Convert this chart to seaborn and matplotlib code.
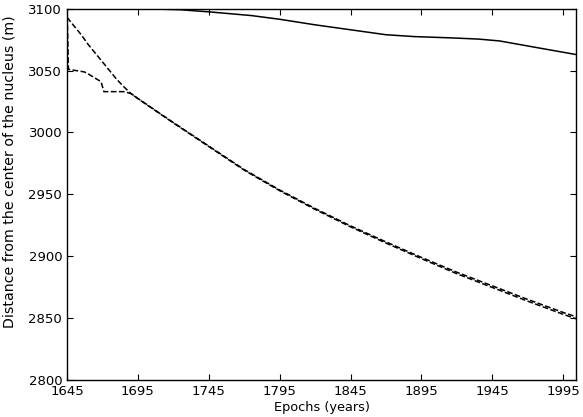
import matplotlib
matplotlib.use('Agg')
import matplotlib.pyplot as plt
import seaborn as sns
import pandas as pd

sns.set_style('ticks')
plt.rcParams['font.family'] = ['DejaVu Sans']

# solid curve
years_solid = [1645, 1700, 1725, 1745, 1775, 1795, 1820, 1845, 1870, 1890, 1915, 1935, 1950, 1972, 2004]
dist_solid = [3100, 3100, 3099.2, 3097.5, 3094.5, 3091.5, 3087, 3083, 3079, 3077.5, 3076.5, 3075.5, 3074, 3069.5, 3063]

# dashed curve A (smooth start)
years_a = [1645, 1650, 1655, 1660, 1665, 1670, 1675, 1680, 1685, 1690, 1695, 1720, 1745, 1770, 1795,
           1820, 1845, 1870, 1895, 1920, 1945, 1970, 1995, 2004]
dist_a = [3093, 3086, 3079, 3071, 3064, 3057, 3050, 3043, 3037, 3031.5, 3027.5, 3008, 2989, 2970, 2953.5,
          2938.5, 2924.5, 2911.5, 2899, 2887, 2876, 2865, 2854.5, 2851]

# dashed curve B (stepped start)
years_b = [1645, 1646, 1657, 1659, 1669, 1671, 1685, 1690, 1695, 1720, 1745, 1770, 1795,
           1820, 1845, 1870, 1895, 1920, 1945, 1970, 1995, 2004]
dist_b = [3100, 3051, 3049, 3048, 3041, 3033, 3033, 3031.5, 3027.3, 3007.7, 2988.6, 2969.5, 2952.9,
          2937.8, 2923.7, 2910.6, 2898, 2885.8, 2874.7, 2863.6, 2853, 2849.4]

df_s = pd.DataFrame({'year': years_solid, 'dist': dist_solid})
df_a = pd.DataFrame({'year': years_a, 'dist': dist_a})
df_b = pd.DataFrame({'year': years_b, 'dist': dist_b})

fig = plt.figure(figsize=(5.83, 4.17), dpi=100)
ax = fig.add_axes([0.115, 0.089, 0.873, 0.890])

sns.lineplot(data=df_s, x='year', y='dist', ax=ax, color='black', lw=1.1)
sns.lineplot(data=df_a, x='year', y='dist', ax=ax, color='black', lw=1.1, linestyle='--')
sns.lineplot(data=df_b, x='year', y='dist', ax=ax, color='black', lw=1.1, linestyle='--')

ax.set_xlim(1645, 2004)
ax.set_ylim(2800, 3100)
ax.set_xticks(range(1645, 2000, 50))
ax.set_yticks(range(2800, 3101, 50))
ax.tick_params(direction='in', top=True, right=True, labelsize=9.5, length=4,
               colors='black', labelcolor='black')
ax.set_xlabel('Epochs (years)', fontsize=9.3, labelpad=2, color='black')
ax.set_ylabel('Distance from the center of the nucleus (m)', fontsize=10.2, color='black')
# label sits a bit above the axes centre in the original
ax.yaxis.set_label_coords(-0.1, 0.56)
for s in ax.spines.values():
    s.set_linewidth(1)
    s.set_color('black')

fig.savefig('out.png', dpi=100)
